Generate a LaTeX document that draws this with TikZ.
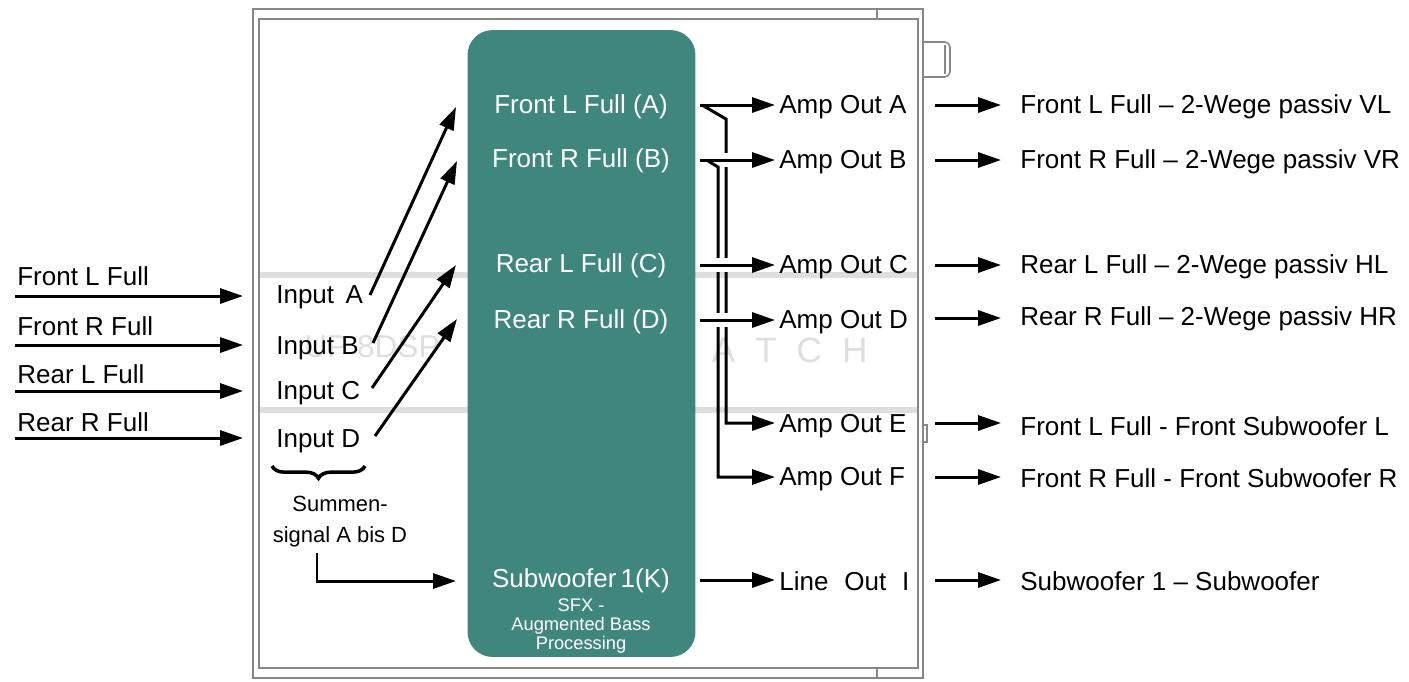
\documentclass[tikz,border=0pt]{standalone}
\usepackage{fontspec}
\setmainfont{Liberation Sans}
\usetikzlibrary{arrows.meta,decorations.pathreplacing}
\definecolor{tealbox}{RGB}{63,135,125}
\definecolor{framegray}{RGB}{135,135,135}
\definecolor{wmgray}{RGB}{222,222,222}
\begin{document}
\begin{tikzpicture}[x=0.02cm,y=-0.02cm,
  lbl/.style={font=\fontsize{14.8}{17}\selectfont, inner sep=0pt, anchor=west},
  boxlbl/.style={font=\fontsize{14.8}{17}\selectfont, text=white, inner sep=0pt},
  arr/.style={line width=1.7pt, -{Triangle[length=13pt,width=8.5pt]}},
  halo/.style={preaction={draw,white,line width=8pt,-}},
  frm/.style={draw=framegray, line width=0.9pt}]
\useasboundingbox (0,0) rectangle (1409,681);

% watermark bands and text
\fill[wmgray] (260,272) rectangle (918,278);
\fill[wmgray] (260,407) rectangle (918,413);
\node[text=wmgray, font=\fontsize{18}{18}\selectfont, inner sep=0pt] (wm1) at (372,347) {UP 8DSP};
\node[text=wmgray, font=\fontsize{20}{20}\selectfont, inner sep=0pt] (wm2) at (765,350) {M\hspace{0.4cm}A\hspace{0.4cm}T\hspace{0.4cm}C\hspace{0.4cm}H};

% housing frame
\draw[frm] (253,9) rectangle (923,678);
\draw[frm] (259,19) rectangle (918,668);
\draw[frm] (877,9) -- (877,19);
\draw[frm] (877,668) -- (877,678);
\draw[frm, rounded corners=3pt] (923,42) -- (950,42) -- (950,77) -- (923,77);
\draw[frm] (945,45) -- (945,74);
\draw[frm] (923,425) -- (927,425) -- (927,442) -- (923,442);

% DSP block
\node[fill=tealbox, rounded corners=0.5cm, minimum width=4.56cm, minimum height=12.54cm, inner sep=0pt] (dsp) at (581.5,343.5) {};
\node[boxlbl] (chA) at (581,107) {Front L Full (A)};
\node[boxlbl] (chB) at (581,161) {Front R Full (B)};
\node[boxlbl] (chC) at (581,266) {Rear L Full (C)};
\node[boxlbl] (chD) at (581,322) {Rear R Full (D)};
\node[boxlbl] (chK) at (581,581) {Subwoofer\,1(K)};
\node[text=white, inner sep=0pt, align=center, font=\fontsize{10.4}{10.6}\selectfont] (sfx) at (581,626) {SFX -\\Augmented Bass\\Processing};

% sources
\node[lbl] (srcA) at (17,276) {Front L Full};
\node[lbl] (srcB) at (17,326) {Front R Full};
\node[lbl] (srcC) at (17,374) {Rear L Full};
\node[lbl] (srcD) at (17,422) {Rear R Full};
\coordinate (sA) at (15,296);
\coordinate (sB) at (15,345);
\coordinate (sC) at (15,391);
\coordinate (sD) at (15,438);
\coordinate (tA) at (243,296);
\coordinate (tB) at (243,345);
\coordinate (tC) at (243,391);
\coordinate (tD) at (243,438);
\draw[arr] (sA) -- (tA);
\draw[arr] (sB) -- (tB);
\draw[arr] (sC) -- (tC);
\draw[arr] (sD) -- (tD);

% inputs
\node[lbl] (inA) at (276,297) {Input\, A};
\node[lbl] (inB) at (276,348) {Input B};
\node[lbl] (inC) at (276,393) {Input C};
\node[lbl] (inD) at (276,441) {Input D};
\coordinate (iA) at (370,295);
\coordinate (iB) at (373,343);
\coordinate (iC) at (372,388);
\coordinate (iD) at (375,436);
\coordinate (eA) at (456,107);
\coordinate (eB) at (457,161);
\coordinate (eC) at (456,265);
\coordinate (eD) at (457,319);
\draw[arr] (iA) -- (eA);
\draw[arr] (iB) -- (eB);
\draw[arr] (iC) -- (eC);
\draw[arr] (iD) -- (eD);

% sum signal
\draw[decorate, decoration={brace, mirror, amplitude=7pt}, line width=2pt] (272,466) -- (365,466);
\node[inner sep=0pt, align=center, font=\fontsize{12.5}{17.6}\selectfont] (sum) at (340,522) {Summen-\\signal A bis D};
\coordinate (s0) at (317,553);
\coordinate (sK) at (456,581);
\draw[arr] (s0) |- (sK);

% amp outputs
\node[lbl] (oA) at (779,107) {Amp Out A};
\node[lbl] (oB) at (779,162) {Amp Out B};
\node[lbl] (oC) at (779,267) {Amp Out C};
\node[lbl] (oD) at (779,322) {Amp Out D};
\node[lbl] (oE) at (779,426) {Amp Out E};
\node[lbl] (oF) at (779,479) {Amp Out F};
\node[lbl] (oI) at (779,581) {Line\,\, Out\,\, I};

\coordinate (bA) at (700,105);
\coordinate (bB) at (700,160);
\coordinate (bC) at (700,265);
\coordinate (bD) at (700,320);
\coordinate (bI) at (700,580);
\coordinate (aA) at (775,105);
\coordinate (aB) at (775,160);
\coordinate (aC) at (775,265);
\coordinate (aD) at (775,320);
\coordinate (aE) at (775,423);
\coordinate (aF) at (775,477);
\coordinate (aI) at (775,580);

\draw[arr] (bA) -- (aA);
\draw[arr] (702,105) -- (726,119) -- (726,423) -- (aE);
\draw[arr, halo] (bB) -- (aB);
\draw[arr] (708,161) -- (718,167) -- (718,477) -- (aF);
\draw[arr, halo] (bC) -- (aC);
\draw[arr, halo] (bD) -- (aD);
\draw[arr] (bI) -- (aI);

% speaker destinations
\node[lbl] (dA) at (1020,107) {Front L Full – 2-Wege passiv VL};
\node[lbl] (dB) at (1020,162) {Front R Full – 2-Wege passiv VR};
\node[lbl] (dC) at (1020,267) {Rear L Full – 2-Wege passiv HL};
\node[lbl] (dD) at (1020,319) {Rear R Full – 2-Wege passiv HR};
\node[lbl] (dE) at (1020,426) {Front L Full - Front Subwoofer L};
\node[lbl] (dF) at (1020,478) {Front R Full - Front Subwoofer R};
\node[lbl] (dI) at (1020,581) {Subwoofer 1 – Subwoofer};
\foreach \n/\y in {A/105,B/160,C/265,D/318,E/423,F/477,I/580}{
  \coordinate (r\n) at (935,\y);
  \coordinate (q\n) at (1001,\y);
  \draw[arr] (r\n) -- (q\n);
}
\end{tikzpicture}
\end{document}
